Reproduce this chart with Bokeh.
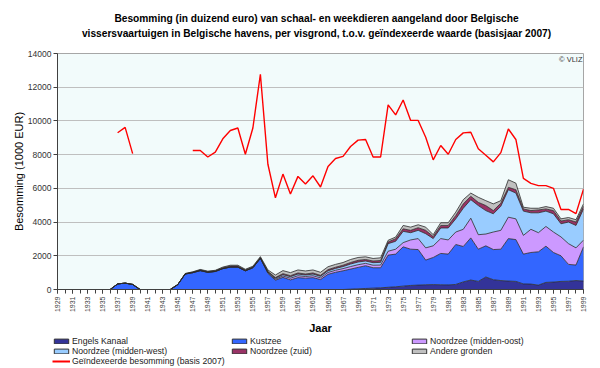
import numpy as np
from bokeh.plotting import figure
from bokeh.models import Legend, LegendItem, Label, FixedTicker, Range1d
from bokeh.embed import file_html
from bokeh.resources import INLINE

years = list(range(1929, 2000))

engels_kanaal = [0]*39 + [20, 40, 60, 80, 100, 130, 160, 200, 240, 260, 280, 290, 280, 270, 300,
                          450, 560, 480, 740, 580, 530, 500, 480, 330, 320, 260, 420, 440, 480, 490, 530, 500]

kustzee = [0]*8 + [330, 380, 300] + [0]*5 + [290, 920, 1000, 1120, 1020, 1070, 1240, 1330, 1330, 1110,
           1290, 1850, 960, 550, 720, 570, 705, 670, 705, 590, 900, 1020, 1110, 1190, 1270, 1350, 1210,
           1190, 1910, 1940, 2330, 2150, 2110, 1465, 1610, 1860, 1830, 2370, 2100, 2500, 1910, 1850,
           1790, 1860, 2520, 2480, 1770, 1875, 1975, 2150, 1755, 1520, 1000, 920, 2030]

midden_oost = [0]*28 + [40, 60, 80, 100, 110, 100, 110, 100, 110, 120, 130, 150, 160, 140, 150, 160,
               230, 290, 250, 550, 650, 725, 690, 880, 840, 740, 1020, 1170, 860, 700, 1040, 1120,
               1270, 1230, 1110, 1375, 1135, 1170, 1215, 1120, 1230, 1020, 400]

midden_west = [0]*28 + [40, 60, 80, 90, 100, 90, 100, 90, 100, 110, 120, 150, 160, 140, 150, 160,
               450, 470, 670, 430, 490, 840, 430, 630, 710, 780, 1250, 1100, 1730, 1390, 1080, 1430,
               1630, 1530, 1440, 980, 1180, 910, 1080, 780, 1280, 1330, 1850]

zuid = [0]*17 + [20, 30, 40, 40, 40, 50, 60, 60, 50, 50, 50,
                 30, 40, 60, 60, 65, 60, 65, 60, 70, 70, 80, 90, 100, 90, 100, 110,
                 100, 150, 150, 140, 155, 200, 120, 150, 150, 200, 260, 200, 190, 300, 190, 180,
                 140, 200, 130, 130, 170, 130, 190, 160, 140, 200, 160]

andere = [0]*17 + [10, 20, 30, 30, 30, 40, 50, 50, 40, 40, 50,
                   90, 150, 180, 180, 180, 180, 180, 180, 170, 170, 160, 180, 170, 160, 150, 160,
                   100, 100, 200, 190, 175, 190, 110, 160, 160, 200, 250, 190, 300, 290, 400, 150,
                   450, 390, 100, 140, 100, 140, 140, 130, 130, 140, 140]

nan = float("nan")
geindexeerd = [nan]*8 + [9300, 9620, 8060] + [nan]*7 + [8250, 8250, 7860, 8150, 8940, 9430, 9580, 8020,
               9580, 12770, 7430, 5440, 6845, 5670, 6710, 6260, 6745, 6080, 7300, 7770, 7900, 8480,
               8860, 8900, 7860, 7860, 10950, 10360, 11240, 10030, 10030, 9030, 7690, 8545, 8020,
               8900, 9290, 9330, 8350, 7960, 7570, 8120, 9525, 8900, 6590, 6300, 6160, 6160, 6000,
               4750, 4750, 4500, 5950]

series_names = ["Engels Kanaal", "Kustzee", "Noordzee (midden-oost)",
                "Noordzee (midden-west)", "Noordzee (zuid)", "Andere gronden"]
series_values = [engels_kanaal, kustzee, midden_oost, midden_west, zuid, andere]
series_colors = ["#333399", "#3366FF", "#CC99FF", "#99CCFF", "#993366", "#C0C0C0"]
line_name = "Geïndexeerde besomming (basis 2007)"
title1 = "Besomming (in duizend euro) van schaal- en weekdieren aangeland door Belgische"
title2 = "vissersvaartuigen in Belgische havens, per visgrond, t.o.v. geïndexeerde waarde (basisjaar 2007)"

y_ticks = list(range(0, 14001, 2000))


def strip(height):
    s = figure(width=600, height=height, output_backend="svg", toolbar_location=None,
               x_range=Range1d(0, 1), y_range=Range1d(0, 1), x_axis_type=None, y_axis_type=None,
               min_border_left=0, min_border_right=0, min_border_top=0, min_border_bottom=0)
    s.outline_line_color = None
    s.background_fill_color = "white"
    s.border_fill_color = "white"
    s.xgrid.visible = False
    s.ygrid.visible = False
    return s


# title strip
t = strip(45)
for txt, yy in [(title1, 27.5), (title2, 12)]:
    t.add_layout(Label(x=316, y=yy, x_units="screen", y_units="screen", text=txt,
                       text_align="center", text_baseline="middle",
                       text_font="Liberation Sans", text_font_size="10.2px",
                       text_font_style="bold", text_color="black"))

# main chart
p = figure(width=600, height=292, output_backend="svg", toolbar_location=None,
           x_range=Range1d(1929, 1999), y_range=Range1d(0, 14000),
           min_border_left=57, min_border_right=17, min_border_top=8, min_border_bottom=45)

p.background_fill_color = "#F2FBFB"
p.border_fill_color = "white"
p.outline_line_color = "#A6A6A6"
p.xgrid.visible = False
p.ygrid.grid_line_color = "#BFBFBF"
p.ygrid.grid_line_width = 1
p.ygrid.ticker = FixedTicker(ticks=y_ticks)

x = np.array(years, dtype=float)
cum = np.zeros(len(years))
bottoms = []
tops = []
for vals in series_values:
    b = cum.copy()
    cum = cum + np.array(vals, dtype=float)
    bottoms.append(b)
    tops.append(cum.copy())

for b, tp, c in zip(bottoms, tops, series_colors):
    p.varea(x=x, y1=b, y2=tp, fill_color=c)
for tp in tops:
    p.line(x, tp, line_color="#2A2A2A", line_width=0.8)

p.line(x, np.array(geindexeerd, dtype=float), line_color="#FF0000", line_width=1.4)

p.yaxis.ticker = FixedTicker(ticks=y_ticks)
p.yaxis.axis_label = "Besomming (1000 EUR)"
p.yaxis.axis_label_text_font = "Liberation Sans"
p.yaxis.axis_label_text_font_size = "11px"
p.yaxis.axis_label_text_font_style = "normal"
p.yaxis.axis_label_text_color = "black"
p.yaxis.axis_label_standoff = 0
p.yaxis.major_label_text_font = "Liberation Sans"
p.yaxis.major_label_text_font_size = "8.5px"
p.yaxis.major_label_text_color = "#333333"
p.yaxis.major_label_standoff = 2
p.yaxis.major_tick_out = 4
p.yaxis.major_tick_in = 0
p.yaxis.minor_tick_out = 0
p.yaxis.minor_tick_in = 0
p.yaxis.axis_line_color = "#404040"
p.yaxis.major_tick_line_color = "#404040"

p.xaxis.ticker = FixedTicker(ticks=years[::2], minor_ticks=years)
p.xaxis.major_label_orientation = np.pi / 2
p.xaxis.major_label_text_font = "Liberation Sans"
p.xaxis.major_label_text_font_size = "7px"
p.xaxis.major_label_text_color = "#404040"
p.xaxis.major_label_standoff = 3
p.xaxis.major_tick_out = 4
p.xaxis.major_tick_in = 0
p.xaxis.minor_tick_out = 4
p.xaxis.minor_tick_in = 0
p.xaxis.axis_line_color = "#404040"
p.xaxis.major_tick_line_color = "#404040"
p.xaxis.minor_tick_line_color = "#404040"
p.xaxis.axis_label = "Jaar"
p.xaxis.axis_label_text_font = "Liberation Sans"
p.xaxis.axis_label_text_font_size = "11px"
p.xaxis.axis_label_text_font_style = "bold"
p.xaxis.axis_label_text_color = "black"
p.xaxis.axis_label_standoff = 7

p.add_layout(Label(x=525, y=230, x_units="screen", y_units="screen", text="© VLIZ",
                   text_align="right", text_baseline="middle",
                   text_font="Liberation Sans", text_font_size="7.5px", text_color="#333333"))

# legend strip
q = strip(31)
proxies = []
for c in series_colors:
    proxies.append(q.quad(left=[5], right=[6], top=[6], bottom=[5], fill_color=c,
                          line_color="#333333", line_width=1))
line_proxy = q.line([5, 6], [5, 6], line_color="#FF0000", line_width=2)


def make_legend(items, loc):
    lg = Legend(items=items, location=loc, orientation="vertical",
                label_text_font="Liberation Sans", label_text_font_size="8.7px",
                label_text_color="#222222",
                label_height=10, glyph_height=6, glyph_width=18, label_standoff=2,
                spacing=0, padding=0, margin=0,
                border_line_alpha=0, background_fill_alpha=0)
    q.add_layout(lg)


make_legend([LegendItem(label=series_names[0], renderers=[proxies[0]]),
             LegendItem(label=series_names[3], renderers=[proxies[3]]),
             LegendItem(label=line_name, renderers=[line_proxy])], (52, 2))
make_legend([LegendItem(label=series_names[1], renderers=[proxies[1]]),
             LegendItem(label=series_names[4], renderers=[proxies[4]])], (230, 12))
make_legend([LegendItem(label=series_names[2], renderers=[proxies[2]]),
             LegendItem(label=series_names[5], renderers=[proxies[5]])], (410, 12))

open("out.html", "w").write(file_html([t, p, q], INLINE))
